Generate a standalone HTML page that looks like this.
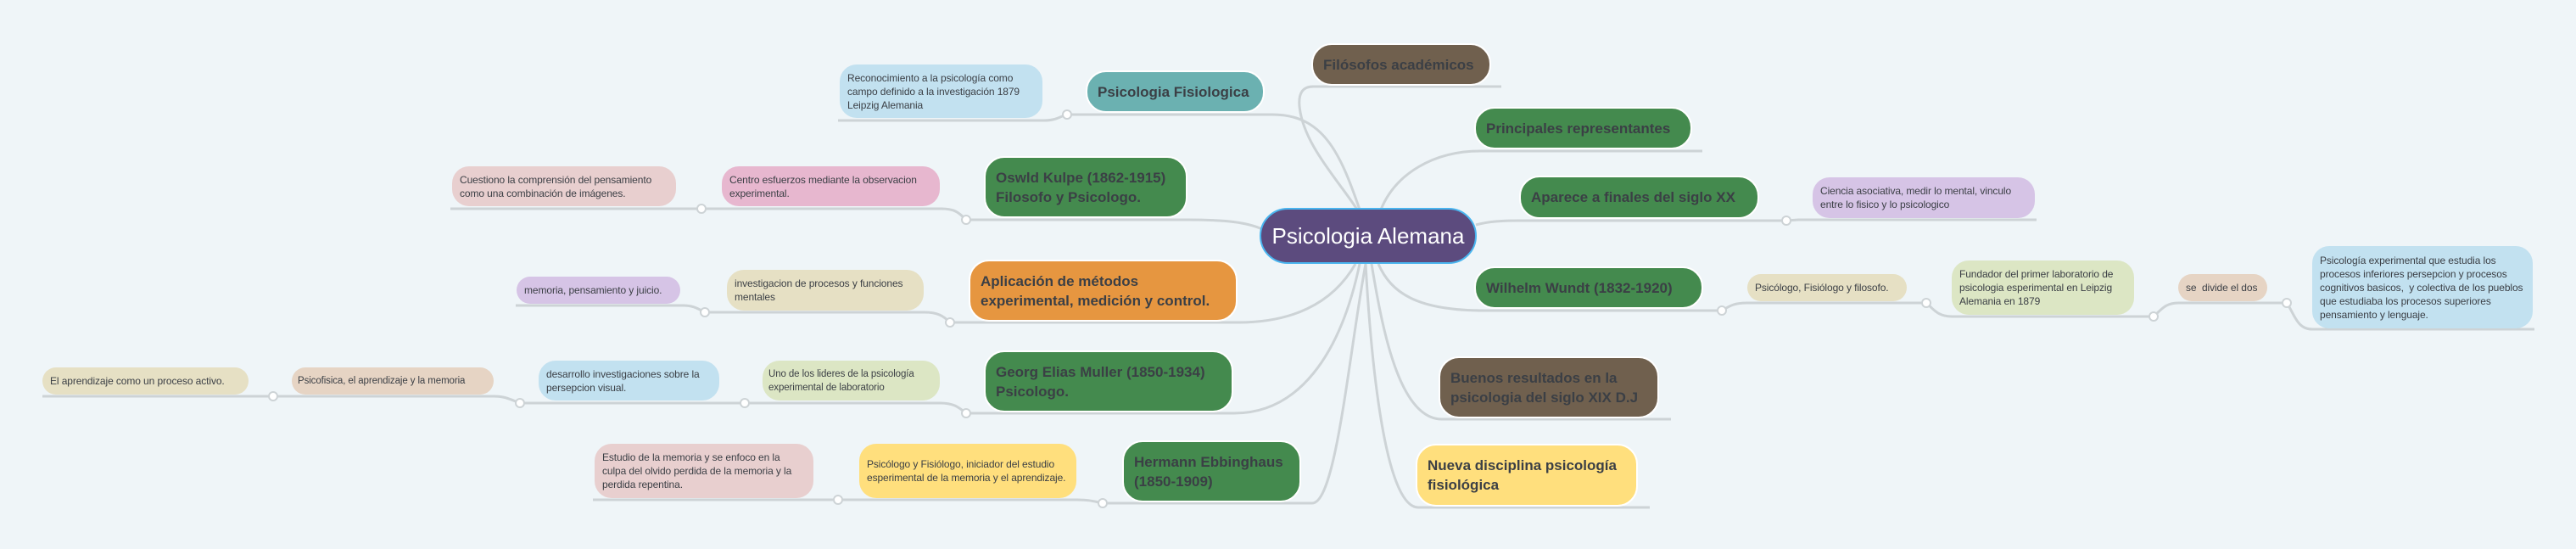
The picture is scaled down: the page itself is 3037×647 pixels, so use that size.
<!DOCTYPE html>
<html><head><meta charset="utf-8"><style>
html,body{margin:0;padding:0}
body{width:3037px;height:647px;background:#eff5f8;position:relative;overflow:hidden;font-family:"Liberation Sans",sans-serif}
.n{position:absolute;box-sizing:border-box;display:flex;align-items:center;border:2px solid #fff;border-radius:24px;color:#3b3f45}
.m{font-weight:bold;font-size:17px;line-height:23px;padding:0 12px}
.s{font-size:12px;line-height:16px;padding:0 9px;border-radius:20px;border:none;letter-spacing:-0.1px}
.w{white-space:nowrap}
.c{position:absolute;left:1485px;top:245px;width:256px;height:66px;background:#5c4b7e;border:2px solid #4ab5ef;border-radius:33px;box-sizing:border-box;color:#fff;font-size:26px;display:flex;align-items:center;justify-content:center}
svg{position:absolute;left:0;top:0}
</style></head><body>
<svg width="3037" height="647" fill="none" stroke="#cdd3d6" stroke-width="3">
<path d="M1770,102 H1548 Q1530,102 1532,125 C1536,170 1580,215 1600,247"/>
<path d="M2007,178 H1745 C1690,178 1645,205 1628,247"/>
<path d="M1740,265 C1755,261 1770,260 1790,260 H2106 L2120,259 H2401"/>
<path d="M1625,311 C1640,345 1670,366 1750,366 H2030 C2040,360 2045,357 2060,357 H2271 C2280,365 2285,373 2301,373 H2539 C2548,365 2553,357 2568,357 H2696 C2705,370 2708,388 2726,388 H2988"/>
<path d="M1617,311 C1630,390 1650,494 1700,494 H1970"/>
<path d="M1610,311 C1615,400 1630,598 1672,598 H1945"/>
<path d="M1603,247 C1580,180 1560,135 1500,135 H1258 C1248,138 1245,142 1230,142 H988"/>
<path d="M1488,270 C1470,262 1445,259 1400,259 H1139 C1130,250 1125,246 1110,246 H531"/>
<path d="M1598,311 C1570,360 1520,380 1460,380 H1120 C1112,372 1105,368 1090,368 H831 C823,364 818,360 805,360 H608"/>
<path d="M1603,311 C1580,420 1530,487 1455,487 H1139 C1130,480 1125,475 1108,475 H613 C600,470 595,467 582,467 H50"/>
<path d="M1610,311 C1590,420 1575,593 1547,593 H1300 C1290,591 1285,589 1270,589 H699"/>
<g fill="#fff" stroke-width="2">
<circle cx="2106" cy="260" r="5"/><circle cx="2030" cy="366" r="5"/><circle cx="2271" cy="357" r="5"/><circle cx="2539" cy="373" r="5"/><circle cx="2696" cy="357" r="5"/>
<circle cx="1258" cy="135" r="5"/><circle cx="1139" cy="259" r="5"/><circle cx="827" cy="246" r="5"/><circle cx="1120" cy="380" r="5"/><circle cx="831" cy="368" r="5"/>
<circle cx="1139" cy="487" r="5"/><circle cx="878" cy="475" r="5"/><circle cx="613" cy="475" r="5"/><circle cx="322" cy="467" r="5"/><circle cx="1300" cy="593" r="5"/><circle cx="988" cy="589" r="5"/>
</g>
</svg>
<div class="c">Psicologia Alemana</div>

<div class="n m" style="left:1546px;top:51px;width:212px;height:50px;background:#70604e">Filósofos académicos</div>
<div class="n m" style="left:1738px;top:126px;width:257px;height:50px;background:#448a4e">Principales representantes</div>
<div class="n m" style="left:1791px;top:207px;width:283px;height:51px;background:#448a4e">Aparece a finales del siglo XX</div>
<div class="n s" style="left:2137px;top:209px;width:262px;height:48px;background:#d6c4e6">Ciencia asociativa, medir lo mental, vinculo entre lo fisico y lo psicologico</div>
<div class="n m" style="left:1738px;top:314px;width:270px;height:50px;background:#448a4e">Wilhelm Wundt (1832-1920)</div>
<div class="n s w" style="left:2060px;top:323px;width:188px;height:32px;background:#e6e0c4">Psicólogo, Fisiólogo y filosofo.</div>
<div class="n s" style="left:2301px;top:307px;width:215px;height:64px;background:#dce6c4">Fundador del primer laboratorio de psicologia esperimental en Leipzig Alemania en 1879</div>
<div class="n s w" style="left:2568px;top:323px;width:105px;height:32px;background:#e6d4c4">se&nbsp; divide el dos</div>
<div class="n s" style="left:2726px;top:290px;width:260px;height:97px;background:#c2e1f0">Psicología experimental que estudia los procesos inferiores persepcion y procesos cognitivos basicos,&nbsp; y colectiva de los pueblos que estudiaba los procesos superiores pensamiento y lenguaje.</div>
<div class="n m" style="left:1696px;top:420px;width:260px;height:73px;background:#70604e">Buenos resultados en la psicologia del siglo XIX D.J</div>
<div class="n m" style="left:1669px;top:523px;width:262px;height:74px;background:#ffdf7d">Nueva disciplina psicología fisiológica</div>

<div class="n m" style="left:1280px;top:83px;width:211px;height:50px;background:#6bb1b1">Psicologia Fisiologica</div>
<div class="n s" style="left:990px;top:76px;width:239px;height:63px;background:#c2e1f0">Reconocimiento a la psicología como campo definido a la investigación 1879 Leipzig Alemania</div>
<div class="n m" style="left:1160px;top:184px;width:240px;height:73px;background:#448a4e">Oswld Kulpe (1862-1915) Filosofo y Psicologo.</div>
<div class="n s" style="left:851px;top:196px;width:257px;height:47px;background:#e7b7cf">Centro esfuerzos mediante la observacion experimental.</div>
<div class="n s" style="left:533px;top:196px;width:264px;height:47px;background:#e8cfcf">Cuestiono la comprensión del pensamiento como una combinación de imágenes.</div>
<div class="n m" style="left:1142px;top:306px;width:317px;height:73px;background:#e69640">Aplicación de métodos experimental, medición y control.</div>
<div class="n s" style="left:857px;top:318px;width:232px;height:48px;background:#e6e0c4">investigacion de procesos y funciones mentales</div>
<div class="n s w" style="left:609px;top:326px;width:193px;height:32px;background:#d6c4e6">memoria, pensamiento y juicio.</div>
<div class="n m" style="left:1160px;top:413px;width:294px;height:73px;background:#448a4e">Georg Elias Muller (1850-1934) Psicologo.</div>
<div class="n s" style="left:899px;top:425px;width:209px;height:47px;background:#dce6c4;font-size:11.5px;padding:0 7px">Uno de los lideres de la psicología experimental de laboratorio</div>
<div class="n s" style="left:635px;top:425px;width:213px;height:47px;background:#c2e1f0">desarrollo investigaciones sobre la persepcion visual.</div>
<div class="n s w" style="left:344px;top:433px;width:238px;height:32px;background:#e6d4c4;font-size:11.5px;padding:0 7px">Psicofisica, el aprendizaje y la memoria</div>
<div class="n s w" style="left:50px;top:433px;width:243px;height:32px;background:#e6e0c4">El aprendizaje como un proceso activo.</div>
<div class="n m" style="left:1323px;top:519px;width:211px;height:73px;background:#448a4e">Hermann Ebbinghaus (1850-1909)</div>
<div class="n s" style="left:1013px;top:523px;width:256px;height:64px;background:#ffdf7d">Psicólogo y Fisiólogo, iniciador del estudio esperimental de la memoria y el aprendizaje.</div>
<div class="n s" style="left:701px;top:523px;width:258px;height:64px;background:#e8cfcf">Estudio de la memoria y se enfoco en la culpa del olvido perdida de la memoria y la perdida repentina.</div>
</body></html>
